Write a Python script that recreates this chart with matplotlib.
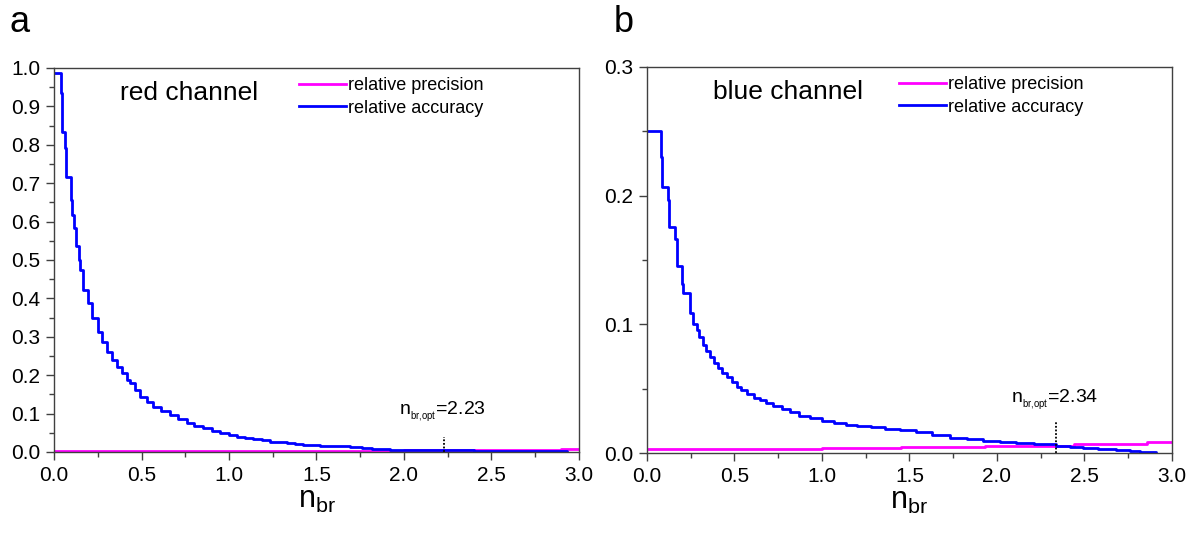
import matplotlib
matplotlib.use("Agg")
import matplotlib.pyplot as plt
from matplotlib.ticker import MultipleLocator, FormatStrFormatter

plt.rcParams["font.family"] = ["Liberation Sans", "DejaVu Sans"]
plt.rcParams["mathtext.default"] = "regular"

# panel a: red channel
n_acc_red = [0.000, 0.042, 0.048, 0.062, 0.070, 0.095, 0.105, 0.116, 0.124, 0.140,
             0.149, 0.168, 0.196, 0.215, 0.253, 0.272, 0.301, 0.330, 0.358, 0.387,
             0.415, 0.434, 0.460, 0.491, 0.530, 0.566, 0.610, 0.663, 0.710, 0.758,
             0.800, 0.853, 0.900, 0.949, 1.000, 1.044, 1.090, 1.139, 1.190, 1.234,
             1.280, 1.330, 1.380, 1.425, 1.470, 1.520, 1.600, 1.690, 1.760, 1.820,
             1.920, 2.030, 2.200, 2.400, 2.600, 2.800, 2.930]
acc_red = [0.988, 0.936, 0.834, 0.791, 0.717, 0.656, 0.617, 0.583, 0.536, 0.500,
           0.474, 0.422, 0.387, 0.348, 0.313, 0.287, 0.261, 0.240, 0.222, 0.205,
           0.188, 0.179, 0.162, 0.144, 0.130, 0.118, 0.107, 0.096, 0.085, 0.075,
           0.068, 0.062, 0.055, 0.049, 0.044, 0.040, 0.036, 0.033, 0.030, 0.027,
           0.025, 0.023, 0.021, 0.019, 0.017, 0.016, 0.015, 0.014, 0.010, 0.007,
           0.006, 0.004, 0.004, 0.003, 0.003, 0.002, 0.001]
n_prec_red = [0.0, 0.5, 1.0, 1.5, 2.0, 2.4, 2.9, 3.0]
prec_red = [0.002, 0.0025, 0.003, 0.0035, 0.004, 0.005, 0.0065, 0.0065]
opt_red = 2.23

# panel b: blue channel
n_acc_blue = [0.000, 0.078, 0.084, 0.120, 0.126, 0.163, 0.170, 0.200, 0.208, 0.246,
              0.265, 0.284, 0.300, 0.322, 0.340, 0.360, 0.385, 0.408, 0.430, 0.455,
              0.485, 0.512, 0.540, 0.570, 0.610, 0.646, 0.680, 0.722, 0.770, 0.817,
              0.870, 0.931, 1.000, 1.070, 1.140, 1.200, 1.280, 1.360, 1.446, 1.540,
              1.630, 1.730, 1.830, 1.920, 2.017, 2.110, 2.210, 2.340, 2.420, 2.490,
              2.580, 2.680, 2.760, 2.820, 2.910]
acc_blue = [0.250, 0.230, 0.207, 0.197, 0.176, 0.166, 0.145, 0.131, 0.124, 0.109,
            0.100, 0.0956, 0.090, 0.084, 0.079, 0.075, 0.070, 0.066, 0.062, 0.059,
            0.055, 0.0515, 0.049, 0.046, 0.043, 0.041, 0.039, 0.0365, 0.034, 0.032,
            0.029, 0.027, 0.025, 0.023, 0.022, 0.021, 0.020, 0.019, 0.018, 0.016,
            0.014, 0.012, 0.0106, 0.0095, 0.0083, 0.0075, 0.0067, 0.0057, 0.0049, 0.0041,
            0.0032, 0.0023, 0.0016, 0.001, 0.0]
n_prec_blue = [0.0, 0.5, 1.0, 1.45, 1.93, 2.44, 2.86, 3.0]
prec_blue = [0.003, 0.0035, 0.004, 0.0049, 0.0057, 0.007, 0.0083, 0.0083]
opt_blue = 2.34

BLUE = "#0000FF"
MAGENTA = "#FF00FF"
SPINE = "#404040"


def style_axes(ax, ymax, ymajor, yminor):
    ax.set_xlim(0, 3.0)
    ax.set_ylim(0, ymax)
    ax.xaxis.set_major_locator(MultipleLocator(0.5))
    ax.xaxis.set_minor_locator(MultipleLocator(0.25))
    ax.yaxis.set_major_locator(MultipleLocator(ymajor))
    ax.yaxis.set_minor_locator(MultipleLocator(yminor))
    ax.xaxis.set_major_formatter(FormatStrFormatter("%.1f"))
    ax.yaxis.set_major_formatter(FormatStrFormatter("%.1f"))
    for sp in ax.spines.values():
        sp.set_color(SPINE)
        sp.set_linewidth(1.0)
    ax.tick_params(which="major", direction="out", length=6, width=1.0,
                   color=SPINE, labelsize=15, top=False, right=False, pad=4)
    ax.tick_params(which="minor", direction="out", length=3.5, width=1.0,
                   color=SPINE, top=False, right=False)
    ax.set_xlabel(r"n$_{br}$", fontsize=22, labelpad=0)


fig = plt.figure(figsize=(11.95, 5.33), dpi=100)
ax_a = fig.add_axes([0.0452, 0.152, 0.4393, 0.7205])
ax_b = fig.add_axes([0.5414, 0.150, 0.4393, 0.7243])

panels = [
    (ax_a, n_prec_red, prec_red, n_acc_red, acc_red, opt_red, 1.0, 0.1, 0.05,
     "red channel", 0.039, 0.104, 0.463),
    (ax_b, n_prec_blue, prec_blue, n_acc_blue, acc_blue, opt_blue, 0.3, 0.1, 0.05,
     "blue channel", 0.024, 0.041, 0.476),
]

for (ax, npx, prec, nac, acc, opt, ymax, ymaj, ymin, title,
     dot_top, lab_y, leg_x) in panels:
    ax.plot(npx, prec, color=MAGENTA, lw=2.0, drawstyle="steps-post",
            label="relative precision")
    ax.plot(nac, acc, color=BLUE, lw=2.0, drawstyle="steps-post",
            label="relative accuracy")
    ax.plot([opt, opt], [0, dot_top], color="black", lw=1.3, ls=(0, (1, 1)))
    ax.text(opt - 0.01, lab_y, r"n$_{_{br{,}opt}}$=%.2f" % opt, fontsize=14,
            ha="center", va="center")
    ax.text(0.126, 0.935, title, transform=ax.transAxes, fontsize=19,
            ha="left", va="center")
    ax.legend(loc="upper left", bbox_to_anchor=(leg_x - 0.01, 0.995),
              frameon=False, fontsize=13, handlelength=2.6, handletextpad=0.1,
              borderaxespad=0, labelspacing=0.3)
    style_axes(ax, ymax, ymaj, ymin)

fig.text(0.008, 0.99, "a", fontsize=26, ha="left", va="top")
fig.text(0.514, 0.99, "b", fontsize=26, ha="left", va="top")

fig.savefig("out.png", dpi=100)
